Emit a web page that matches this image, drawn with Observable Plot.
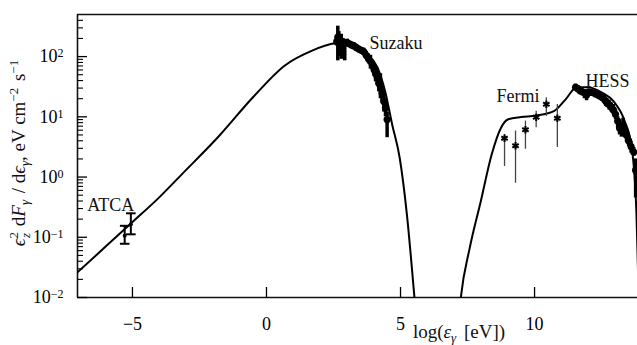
<!DOCTYPE html>
<html><head><meta charset="utf-8">
<script src="https://cdn.jsdelivr.net/npm/d3@7"></script>
<script src="https://cdn.jsdelivr.net/npm/@observablehq/plot@0.6"></script>
<style>
body{margin:0;background:#fff;overflow:hidden}
#chart{width:637px;height:345px}
</style></head><body><div id="chart"></div>
<script>
// ---- axes ----
const xDomain = [-7.05, 13.84];
const yDomain = [0.01, 500];
const xTicks = [-5, 0, 5, 10];
const yMajor = [0.01, 0.1, 1, 10, 100];
const yMinor = [0.02,0.03,0.04,0.05,0.06,0.07,0.08,0.09,
  0.2,0.3,0.4,0.5,0.6,0.7,0.8,0.9, 2,3,4,5,6,7,8,9,
  20,30,40,50,60,70,80,90, 200,300,400];

// ---- model: synchrotron hump ----
const syncX = [-7.1, -6.0, -5.03, -4.0, -3.15, -1.77, -0.53, 0.70, 1.66, 2.56, 3.18, 3.73, 4.14, 4.42, 4.69, 4.97, 5.24, 5.52, 5.6];
const syncY = [0.025, 0.07, 0.174, 0.46, 1.12, 4.8, 20.5, 72, 123, 166, 171, 110, 66, 27, 7.4, 2.07, 0.234, 0.01, 0.004];
// ---- model: inverse Compton hump ----
const icX = [7.2, 7.25, 7.58, 7.99, 8.40, 8.75, 9.02, 9.50, 10.06, 10.74, 11.16, 11.57, 11.98, 12.53, 12.94, 13.36, 13.63, 13.80, 13.9];
const icY = [0.006, 0.01, 0.066, 0.39, 2.37, 6.6, 9.1, 9.9, 10.5, 12.6, 19.5, 31, 31, 25, 18.2, 8.5, 3.0, 0.25, 0.006];

// ---- ATCA ----
const atcaX = [-5.29, -5.06];
const atcaY = [0.106, 0.165];
const atcaLo = [0.078, 0.112];
const atcaHi = [0.155, 0.25];

// ---- Suzaku ----
const suzX  = [2.62,2.66,2.70,2.75,2.79,2.85,2.92,3.01,3.10,3.18,3.26,3.36,3.46,3.55,3.63,3.72,3.80,3.88,3.95,4.02,4.07,4.13,4.19,4.25,4.31,4.38,4.44,4.50];
const suzY  = [178,210,190,160,178,175,168,170,162,155,150,140,132,126,120,105,93,83,71,60,52,45,36,32,25,18,14,9];
const suzLo = [150,85,120,100,90,150,85,150,145,138,135,125,118,110,105,90,78,62,58,48,38,34,26,20,17,12,10,4.5];
const suzHi = [210,320,260,200,235,200,190,195,180,172,170,158,148,142,138,122,110,105,86,72,62,56,50,52,34,24,18,12];

// ---- Fermi ----
const fermiX  = [8.88, 9.29, 9.66, 10.06, 10.44, 10.85];
const fermiY  = [4.4, 3.3, 6.1, 9.8, 16.2, 9.5];
const fermiLo = [1.5, 0.79, 2.9, 6.6, 10.2, 3.1];
const fermiHi = [5.1, 5.8, 8.5, 12.4, 20.7, 16];

// ---- HESS ----
const hessX  = [11.53,11.62,11.70,11.78,11.86,11.94,12.02,12.10,12.19,12.28,12.36,12.45,12.53,12.62,12.70,12.78,12.86,12.94,13.02,13.10,13.17,13.24,13.30,13.36,13.43,13.51,13.60,13.70,13.77];
const hessY  = [31,29,27,26,25,23,26,25.5,25,24,23,22,21,19,17,16,14.5,13,11,8.5,6.5,6,7,5.8,5,4,3.2,2.6,1.3];
const hessLo = [27,26,24,24,20,18.5,23,23,22,21,20,19,18,16,14.5,13,12,11,9,6.5,5,4.6,4.8,4.5,3.8,3.2,2.5,2.2,0.45];
const hessHi = [35,33,30,29,28,26,28,28,27,27,26,25,24,22,20,19,17,16,13,10,8.5,8,9.5,7.5,6.2,4.8,3.9,3.1,2.0];

// ---- labels ----
const labelText = ["ATCA", "Suzaku", "Fermi", "HESS"];
const labelX = [-6.69, 3.84, 8.58, 11.90];
const labelY = [0.344, 169, 22.2, 39.4];

const zip = (xs, ys, lo, hi) => xs.map((x, i) => ({x, y: ys[i], lo: lo ? lo[i] : undefined, hi: hi ? hi[i] : undefined}));
const sync = zip(syncX, syncY), ic = zip(icX, icY);
const atca = zip(atcaX, atcaY, atcaLo, atcaHi);
const suz = zip(suzX, suzY, suzLo, suzHi);
const fermi = zip(fermiX, fermiY, fermiLo, fermiHi);
const hess = zip(hessX, hessY, hessLo, hessHi);
const labels = labelText.map((t, i) => ({t, x: labelX[i], y: labelY[i]}));

const hbar = {draw(ctx, size) { const w = Math.sqrt(size) * 0.9; ctx.moveTo(-w, 0); ctx.lineTo(w, 0); }};
const FONT = "'Liberation Serif', 'Times New Roman', serif";

const chart = Plot.plot({
  width: 637, height: 345,
  marginLeft: 77, marginRight: 0, marginTop: 14, marginBottom: 48,
  style: {fontFamily: FONT, fontSize: "18px", background: "#fff", color: "#000", overflow: "visible"},
  x: {domain: xDomain, label: null},
  y: {type: "log", domain: yDomain, label: null},
  marks: [
    Plot.ruleY([yDomain[0], yDomain[1]], {stroke: "#111", strokeWidth: 1.6}),
    Plot.ruleX([xDomain[0]], {stroke: "#111", strokeWidth: 1.6}),
    Plot.axisX(xTicks, {tickSize: -10, tickPadding: 30, tickFormat: d => d < 0 ? "\u2212" + (-d) : String(d), fontSize: 18, strokeWidth: 1.3}),
    Plot.axisY(yMajor, {tickSize: -10, tickPadding: 24, tickFormat: d => "E" + Math.round(Math.log10(d)), fontSize: 18, strokeWidth: 1.3}),
    Plot.axisY(yMinor, {tickSize: -6, tickFormat: () => "", strokeWidth: 1.1}),
    Plot.line(sync, {x: "x", y: "y", curve: "monotone-x", strokeWidth: 2, clip: true}),
    Plot.line(ic, {x: "x", y: "y", curve: "monotone-x", strokeWidth: 2, clip: true}),
    Plot.ruleX(atca, {x: "x", y1: "lo", y2: "hi", strokeWidth: 2}),
    Plot.dot(atca, {x: "x", y: "lo", symbol: hbar, r: 3, stroke: "black", strokeWidth: 2}),
    Plot.dot(atca, {x: "x", y: "hi", symbol: hbar, r: 3, stroke: "black", strokeWidth: 2}),
    Plot.dot(atca, {x: "x", y: "y", r: 2, fill: "black"}),
    Plot.ruleX(suz, {x: "x", y1: "lo", y2: "hi", strokeWidth: 3.5, clip: true}),
    Plot.dot(suz, {x: "x", y: "y", r: 3.6, fill: "black"}),
    Plot.ruleX(fermi, {x: "x", y1: "lo", y2: "hi", stroke: "#444", strokeWidth: 1.3}),
    Plot.dot(fermi, {x: "x", y: "y", symbol: "asterisk", r: 3.5, stroke: "black", strokeWidth: 2}),
    Plot.ruleX(hess, {x: "x", y1: "lo", y2: "hi", strokeWidth: 3.5, clip: true}),
    Plot.dot(hess, {x: "x", y: "y", r: 3.6, fill: "black", clip: true}),
    Plot.text(labels, {x: "x", y: "y", text: "t", textAnchor: "start", fontSize: 18, fill: "#111"})
  ]
});
document.getElementById("chart").appendChild(chart);

const svg = d3.select(chart);
// superscript tick labels on y axis
svg.selectAll('g[aria-label="y-axis tick label"] text').each(function() {
  const t = d3.select(this);
  const raw = t.text();
  if (!raw.startsWith("E")) return;
  const e = +raw.slice(1);
  t.text(null);
  t.append("tspan").text("10");
  t.append("tspan").attr("dy", "-0.42em").attr("font-size", "12px").text(e < 0 ? "\u2212" + (-e) : String(e));
});

function rich(sel, parts) {
  let cur = 0;
  for (const [txt, o = {}] of parts) {
    const shift = o.shift || 0;
    const ts = sel.append("tspan").text(txt).attr("dy", shift - cur);
    if (o.italic) ts.attr("font-style", "italic");
    if (o.size) ts.attr("font-size", o.size + "px");
    if (o.dx) ts.attr("dx", o.dx);
    cur = shift;
  }
}
const yTitle = svg.append("text")
  .attr("transform", "translate(25,153) rotate(-90)")
  .attr("text-anchor", "middle").attr("font-family", FONT).attr("font-size", 19).attr("fill", "#111");
rich(yTitle, [
  ["\u03F5", {italic: true}],
  ["2", {shift: -7, size: 13}],
  ["z", {shift: 5, size: 13, italic: true, dx: -6}],
  [" d", {dx: 2}],
  ["F", {italic: true}],
  ["\u03B3", {shift: 4, size: 13, italic: true}],
  [" / d", {dx: 2}],
  ["\u03F5", {italic: true}],
  ["\u03B3", {shift: 4, size: 13, italic: true}],
  [", eV cm", {}],
  ["\u22122", {shift: -7, size: 13}],
  [" s", {dx: 2}],
  ["\u22121", {shift: -7, size: 13}]
]);
const xTitle = svg.append("text")
  .attr("x", 413).attr("y", 338).attr("text-anchor", "start")
  .attr("font-family", FONT).attr("font-size", 19).attr("fill", "#111");
rich(xTitle, [
  ["log(", {}],
  ["\u03B5", {italic: true}],
  ["\u03B3", {shift: 4, size: 13, italic: true}],
  [" [eV])", {dx: 3}]
]);
</script></body></html>
